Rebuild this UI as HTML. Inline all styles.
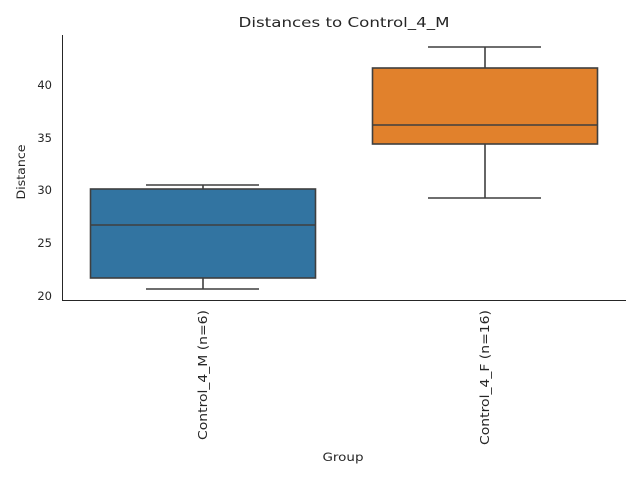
<!DOCTYPE html><html><head><style>body{margin:0;background:#fff}</style></head><body>
<svg width="640" height="480" xmlns="http://www.w3.org/2000/svg" font-family="DejaVu Sans, Liberation Sans, sans-serif">
<text x="344" y="27" font-size="13.5" text-anchor="middle" fill="#262626" textLength="211" lengthAdjust="spacingAndGlyphs">Distances to Control_4_M</text>
<g stroke="#262626" stroke-width="1"><line x1="62.5" y1="35" x2="62.5" y2="300.5"/><line x1="62" y1="300.5" x2="626" y2="300.5"/></g>
<g font-size="11.5" fill="#262626" text-anchor="end">
<text x="52" y="89">40</text><text x="52" y="142">35</text><text x="52" y="194">30</text><text x="52" y="247">25</text><text x="52" y="300">20</text></g>
<text transform="translate(25,172) rotate(-90)" font-size="11.5" text-anchor="middle" fill="#262626" textLength="55" lengthAdjust="spacingAndGlyphs">Distance</text>
<text transform="translate(207,310) rotate(-90)" font-size="12" text-anchor="end" fill="#262626" textLength="130" lengthAdjust="spacingAndGlyphs">Control_4_M (n=6)</text>
<text transform="translate(489,310) rotate(-90)" font-size="12" text-anchor="end" fill="#262626" textLength="135" lengthAdjust="spacingAndGlyphs">Control_4_F (n=16)</text>
<text x="343" y="461" font-size="11.5" text-anchor="middle" fill="#262626" textLength="41" lengthAdjust="spacingAndGlyphs">Group</text>
<g stroke="#3f3f3f" stroke-width="1.6" fill="none">
<line x1="203" y1="185" x2="203" y2="189"/><line x1="203" y1="278" x2="203" y2="289"/>
<line x1="146" y1="185" x2="259" y2="185"/><line x1="146" y1="289" x2="259" y2="289"/>
<rect x="90.5" y="189" width="225" height="89" fill="#3274a1"/>
<line x1="90.5" y1="225" x2="315.5" y2="225"/>
<line x1="485" y1="47" x2="485" y2="68"/><line x1="485" y1="144" x2="485" y2="198"/>
<line x1="428" y1="47" x2="541" y2="47"/><line x1="428" y1="198" x2="541" y2="198"/>
<rect x="372.5" y="68" width="225" height="76" fill="#e1812c"/>
<line x1="372.5" y1="125" x2="597.5" y2="125"/>
</g>
</svg></body></html>
